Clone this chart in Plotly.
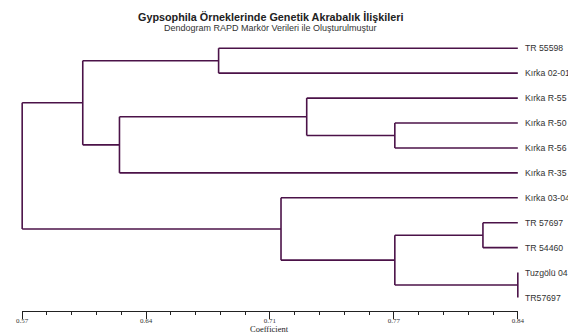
import plotly.graph_objects as go
import numpy as np

# ---- data ----
LEAVES = ["TR 55598", "Kırka 02-01", "Kırka R-55", "Kırka R-50", "Kırka R-56",
          "Kırka R-35", "Kırka 03-04", "TR 57697", "TR 54460", "Tuzgölü 04", "TR57697"]
LEAF_COEF = 0.84
# merges: (left node, right node, coefficient); new nodes numbered from len(LEAVES)
MERGE_LEFT = [0, 3, 2, 13, 11, 7, 9, 16, 6, 15]
MERGE_RIGHT = [1, 4, 12, 5, 14, 8, 10, 17, 18, 19]
MERGE_COEF = [0.677, 0.773, 0.725, 0.623, 0.603, 0.821, 0.84, 0.773, 0.711, 0.57]

TICK_LABELS = ["0.57", "0.64", "0.71", "0.77", "0.84"]
AXIS_MIN, AXIS_MAX = 0.57, 0.84
MINOR_STEP = 0.0135

TITLE = "Gypsophila Örneklerinde Genetik Akrabalık İlişkileri"
SUBTITLE = "Dendogram RAPD Markör Verileri ile Oluşturulmuştur"
X_TITLE = "Coefficient"

LINE_COLOR = "#4b1248"

# ---- build tree segments ----
node_x = {i: LEAF_COEF for i in range(len(LEAVES))}
node_y = {i: float(i) for i in range(len(LEAVES))}
xs, ys = [], []
for k, (a, b, c) in enumerate(zip(MERGE_LEFT, MERGE_RIGHT, MERGE_COEF)):
    nid = len(LEAVES) + k
    for ch in (a, b):
        xs += [node_x[ch], c, None]
        ys += [node_y[ch], node_y[ch], None]
    xs += [c, c, None]
    ys += [node_y[a], node_y[b], None]
    node_x[nid] = c
    node_y[nid] = (node_y[a] + node_y[b]) / 2

fig = go.Figure()
fig.add_trace(go.Scatter(x=xs, y=ys, mode="lines",
                         line=dict(color=LINE_COLOR, width=1.6),
                         hoverinfo="skip", showlegend=False))
# invisible trace on the tick axis subplot
fig.add_trace(go.Scatter(x=[AXIS_MIN, AXIS_MAX], y=[0, 0], xaxis="x2", yaxis="y", mode="markers",
                         marker=dict(opacity=0), hoverinfo="skip", showlegend=False))

for i, name in enumerate(LEAVES):
    fig.add_annotation(x=LEAF_COEF, y=i, xref="x", yref="y", text=name,
                       showarrow=False, xanchor="left", yanchor="middle", xshift=5,
                       font=dict(family="Liberation Sans, Arial", size=8.7, color="#333333"))

fig.add_annotation(x=0.5, y=1, xref="paper", yref="paper", text="<b>" + TITLE + "</b>",
                   showarrow=False, xanchor="center", yanchor="middle", yshift=19.5,
                   font=dict(family="Liberation Sans, Arial", size=10.8, color="#222222"))
fig.add_annotation(x=0.5, y=1, xref="paper", yref="paper", text=SUBTITLE,
                   showarrow=False, xanchor="center", yanchor="middle", yshift=8.5,
                   font=dict(family="Liberation Sans, Arial", size=9, color="#333333"))
# axis title
fig.add_annotation(x=(AXIS_MIN + AXIS_MAX) / 2, y=0, xref="x2", yref="paper", text=X_TITLE,
                   showarrow=False, xanchor="center", yanchor="middle", yshift=-18,
                   font=dict(family="Liberation Serif, Times New Roman", size=8.5, color="#222222"))

pad = 0.005
span = (AXIS_MAX - AXIS_MIN) + 2 * pad
d = pad / span
tickvals = list(np.linspace(AXIS_MIN, AXIS_MAX, len(TICK_LABELS)))

# the page adds an 8px body margin, so the figure is 8px smaller than the window
fig.update_layout(
    width=568, height=326,
    margin=dict(l=5, r=49, t=28, b=23, autoexpand=False),
    paper_bgcolor="white", plot_bgcolor="rgba(0,0,0,0)",
    showlegend=False,
    xaxis=dict(range=[AXIS_MIN - pad, AXIS_MAX + pad], visible=False, domain=[0, 1],
               automargin=False),
    xaxis2=dict(range=[AXIS_MIN, AXIS_MAX], domain=[d, 1 - d], anchor="y", side="bottom",
                showline=True, linecolor="#222222", linewidth=1, automargin=False,
                showgrid=False, zeroline=False,
                tickmode="array", tickvals=tickvals, ticktext=TICK_LABELS,
                ticks="outside", ticklen=7, tickwidth=1, tickcolor="#222222",
                ticklabelstandoff=-4,
                tickfont=dict(family="Liberation Serif, Times New Roman", size=7, color="#333333"),
                minor=dict(tickmode="linear", tick0=AXIS_MIN, dtick=MINOR_STEP,
                           ticks="outside", ticklen=3, tickwidth=1, tickcolor="#222222")),
    yaxis=dict(range=[10.54, -0.49], visible=False, domain=[0, 1], automargin=False),
)

fig.write_html("out.html")
